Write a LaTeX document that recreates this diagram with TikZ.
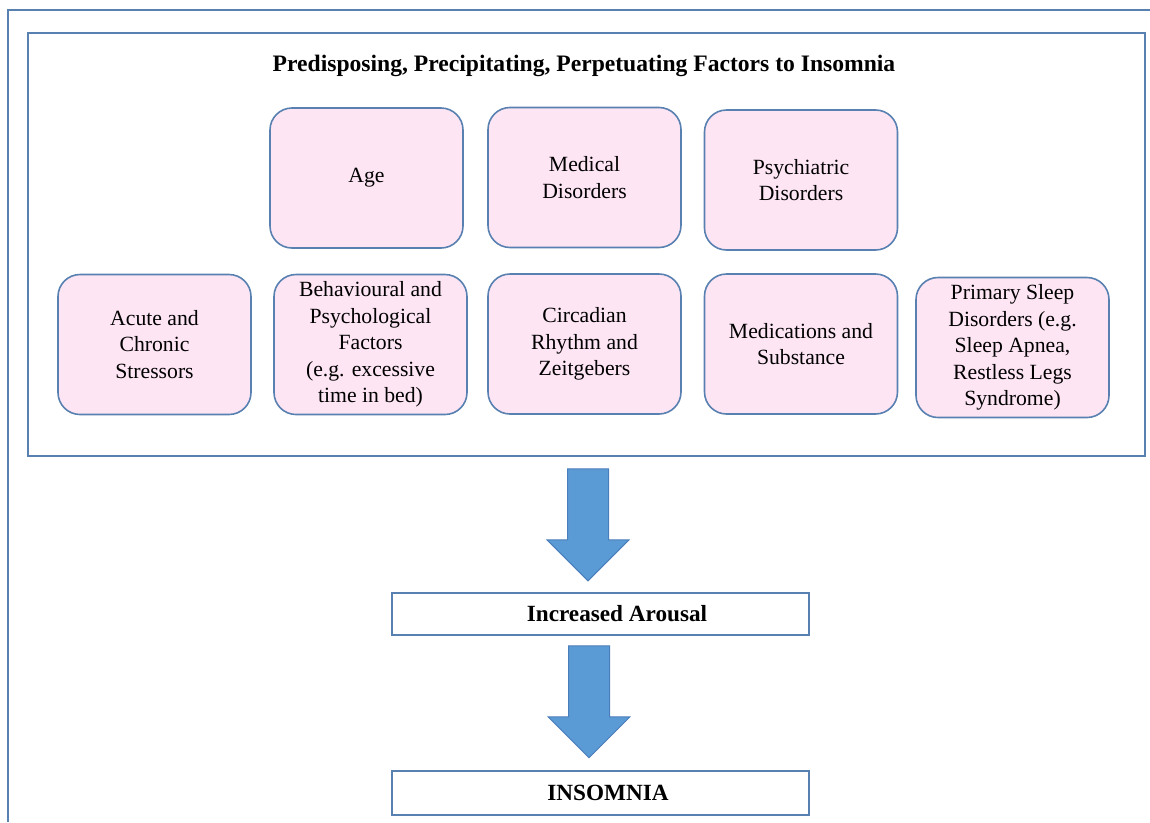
\documentclass[tikz,border=0pt]{standalone}
\usepackage{fontspec}
\setmainfont{Liberation Serif}
\usetikzlibrary{shapes.arrows,calc}

\definecolor{framecol}{RGB}{88,128,176}
\definecolor{boxfill}{RGB}{253,229,244}
\definecolor{arrowfill}{RGB}{91,155,213}
\definecolor{arrowline}{RGB}{74,126,187}

\tikzset{
  factor/.style={draw=framecol, line width=1.6pt, fill=boxfill, rounded corners=22pt,
    minimum width=193pt, minimum height=140pt, inner sep=0pt, align=center,
    font=\fontsize{21.7}{26.5}\selectfont},
  result/.style={draw=framecol, line width=1.6pt, minimum width=417pt, minimum height=42pt,
    inner sep=0pt, font=\fontsize{23.2}{28}\selectfont\bfseries},
  bigarrow/.style={single arrow, draw=arrowline, line width=1pt, fill=arrowfill,
    rotate=-90, single arrow head extend=20.5pt, minimum height=112pt, inner sep=0pt},
}
\newcommand{\shaft}{\rule{0pt}{40pt}}

\begin{document}
\begin{tikzpicture}[x=1pt,y=-1pt]
    \useasboundingbox (0,0) rectangle (1150,822);

    % Frames
    \draw[framecol, line width=1.8pt] (1150,10) -- (8,10) -- (8,822);
    \node[draw=framecol, line width=1.8pt, minimum width=1117pt, minimum height=423pt, inner sep=0pt] (frame) at (586.5,244.5) {};

    % Title
    \node[font=\fontsize{23.6}{28}\selectfont\bfseries] (title) at (584,66) {Predisposing, Precipitating, Perpetuating Factors to Insomnia};

    % Factors, first row
    \node[factor] (age) at (366.5,178) {Age};
    \node[factor] (medical) at (584.5,177.5) {Medical\\Disorders};
    \node[factor] (psychiatric) at (801,180) {Psychiatric\\Disorders};

    % Factors, second row
    \node[factor] (stressors) at (154.5,344.5) {Acute and\\Chronic\\Stressors};
    \node[factor] (behaviour) at (370.5,344.5) {Behavioural and\\Psychological\\Factors\\(e.g. excessive\\time in bed)};
    \node[factor] (circadian) at (584.5,344) {Circadian\\Rhythm and\\Zeitgebers};
    \node[factor] (medications) at (801,344) {Medications and\\Substance};
    \node[factor] (primary) at (1012.5,347.5) {Primary Sleep\\Disorders (e.g.\\Sleep Apnea,\\Restless Legs\\Syndrome)};

    % Outcome boxes
    \node[result] (arousal) at (600.5,614) {\hspace*{33pt}Increased Arousal};
    \node[result, minimum height=44pt] (insomnia) at (600.5,793) {\hspace*{15pt}INSOMNIA};

    % Block arrows
    \node[bigarrow] (arrowA) at ($(frame.south)!0.5!(arousal.north)+(-5.5,-10)$) {\shaft};
    \node[bigarrow] (arrowB) at ($(arousal.south)!0.5!(insomnia.north)+(-11.5,-11.5)$) {\shaft};
\end{tikzpicture}
\end{document}
